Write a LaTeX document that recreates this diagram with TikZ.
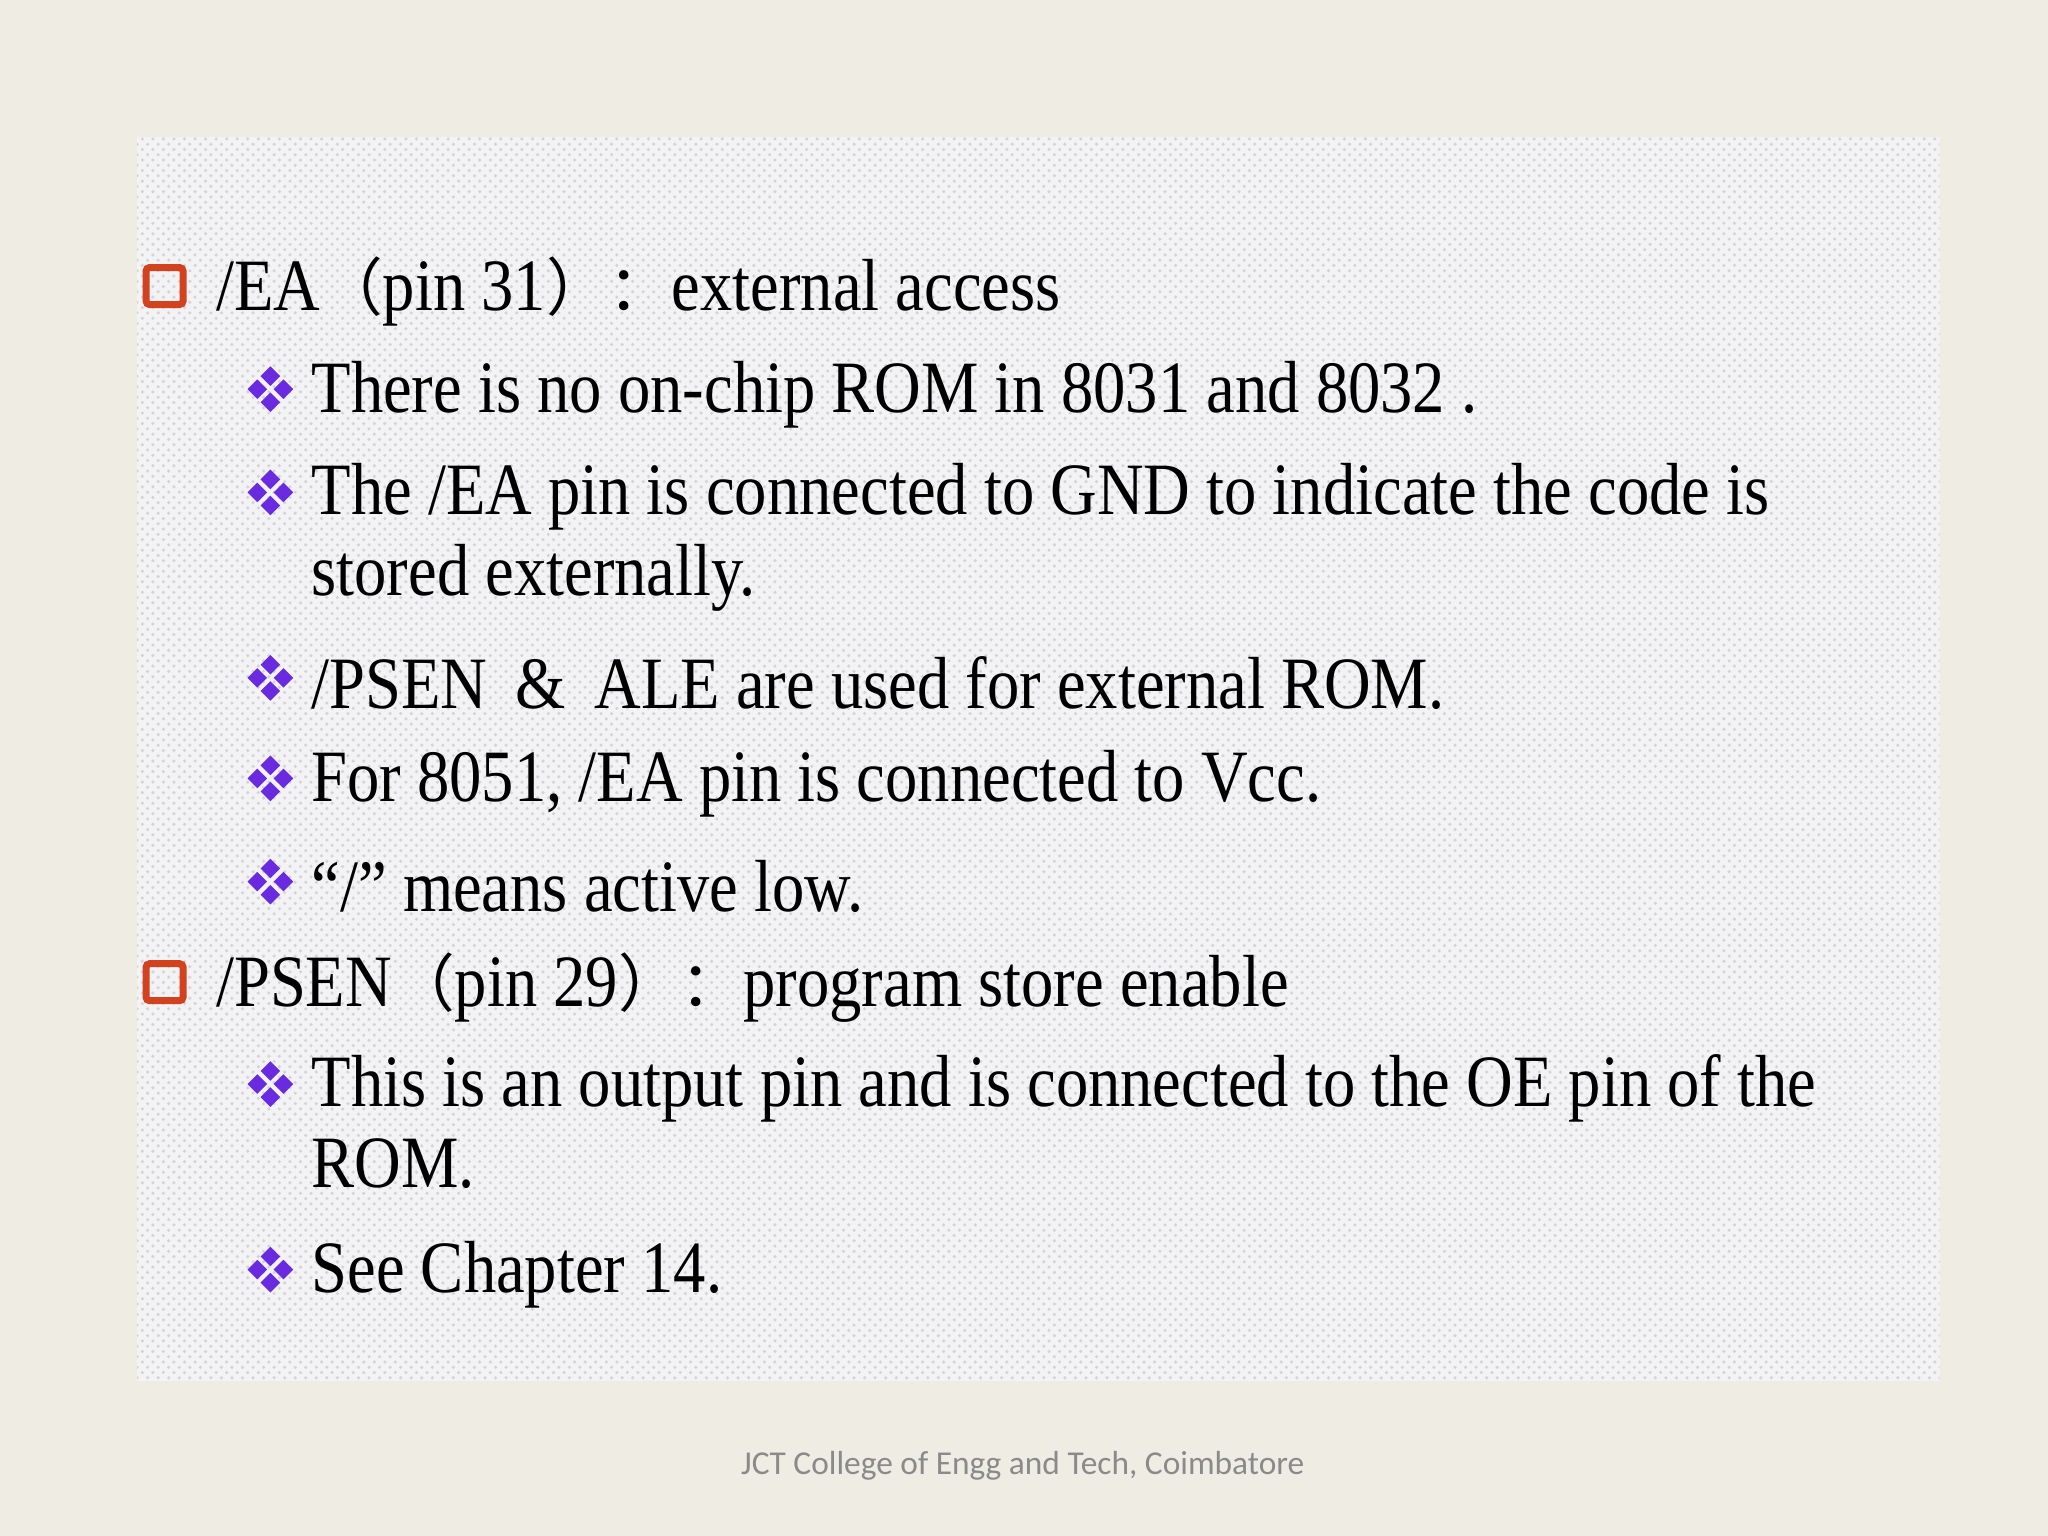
\documentclass[tikz,border=0pt]{standalone}
\usepackage{fontspec}
\setmainfont{Liberation Serif}[FakeStretch=0.875]
\newfontfamily\cjk{Noto Sans CJK SC}[Scale=0.85]
\newfontfamily\footfont{Carlito}
\newcommand{\fw}[1]{{\cjk #1}}
\usetikzlibrary{patterns}
\definecolor{slidebg}{HTML}{EFECE4}
\definecolor{boxbg}{HTML}{F3F3F5}
\definecolor{boxdot}{HTML}{D4D4D8}
\definecolor{sqred}{HTML}{D2421E}
\definecolor{diapurple}{HTML}{6A2BE0}
\definecolor{footgray}{HTML}{8A8A8A}
\tikzset{
    txt/.style={anchor=west,inner sep=0pt,font=\fontsize{21}{25}\selectfont,align=left},
    sq/.style={draw=sqred,line width=2pt,rounded corners=1pt,minimum size=0.37cm,inner sep=0pt},
    pics/dia/.style={code={
        \foreach \dx/\dy in {0/-10,0/10,10/0,-10/0}
            \fill[diapurple] (\dx,\dy) ++(0,-7.5) -- ++(7.5,7.5) -- ++(-7.5,7.5) -- ++(-7.5,-7.5) -- cycle;
    }}
}
\begin{document}
\begin{tikzpicture}[x=0.01306cm,y=-0.01306cm]
    \useasboundingbox (0,0) rectangle (1568,1176);
    \fill[slidebg] (0,0) rectangle (1568,1176);
    \fill[boxbg] (105,105) rectangle (1485,1057);
    \fill[pattern=crosshatch dots,pattern color=boxdot] (105,105) rectangle (1485,1057);
    % first item
    \node[sq] (s1) at (126,219) {};
    \node[txt] (ea) at (165,223) {/EA\fw{（}pin 31\fw{）：}external access};
    \pic at (207,298) {dia};
    \node[txt] (ea1) at (238,302) {There is no on-chip ROM in 8031 and 8032 .};
    \pic at (207,377) {dia};
    \node[txt,anchor=north west] (ea2) at (238,354) {The /EA pin is connected to GND to indicate the code is\\[-2pt] stored externally.};
    \pic at (207,519) {dia};
    \node[txt] (ea3) at (238,523) {/PSEN \,\&\, ALE are used for external ROM.};
    \pic at (207,596) {dia};
    \node[txt] (ea4) at (238,600) {For 8051, /EA pin is connected to Vcc.};
    \pic at (207,675) {dia};
    \node[txt] (ea5) at (238,679) {“/” means active low.};
    % second item
    \node[sq] (s2) at (126,752) {};
    \node[txt] (psen) at (165,756) {/PSEN\fw{（}pin 29\fw{）：}program store enable};
    \pic at (207,830) {dia};
    \node[txt,anchor=north west] (psen1) at (238,807) {This is an output pin and is connected to the OE pin of the\\[-2pt] ROM.};
    \pic at (207,972) {dia};
    \node[txt] (psen2) at (238,976) {See Chapter 14.};
    \node[font=\footfont\fontsize{9.5}{11}\selectfont,text=footgray] (foot) at (783,1122) {JCT College of Engg and Tech, Coimbatore};
\end{tikzpicture}
\end{document}
